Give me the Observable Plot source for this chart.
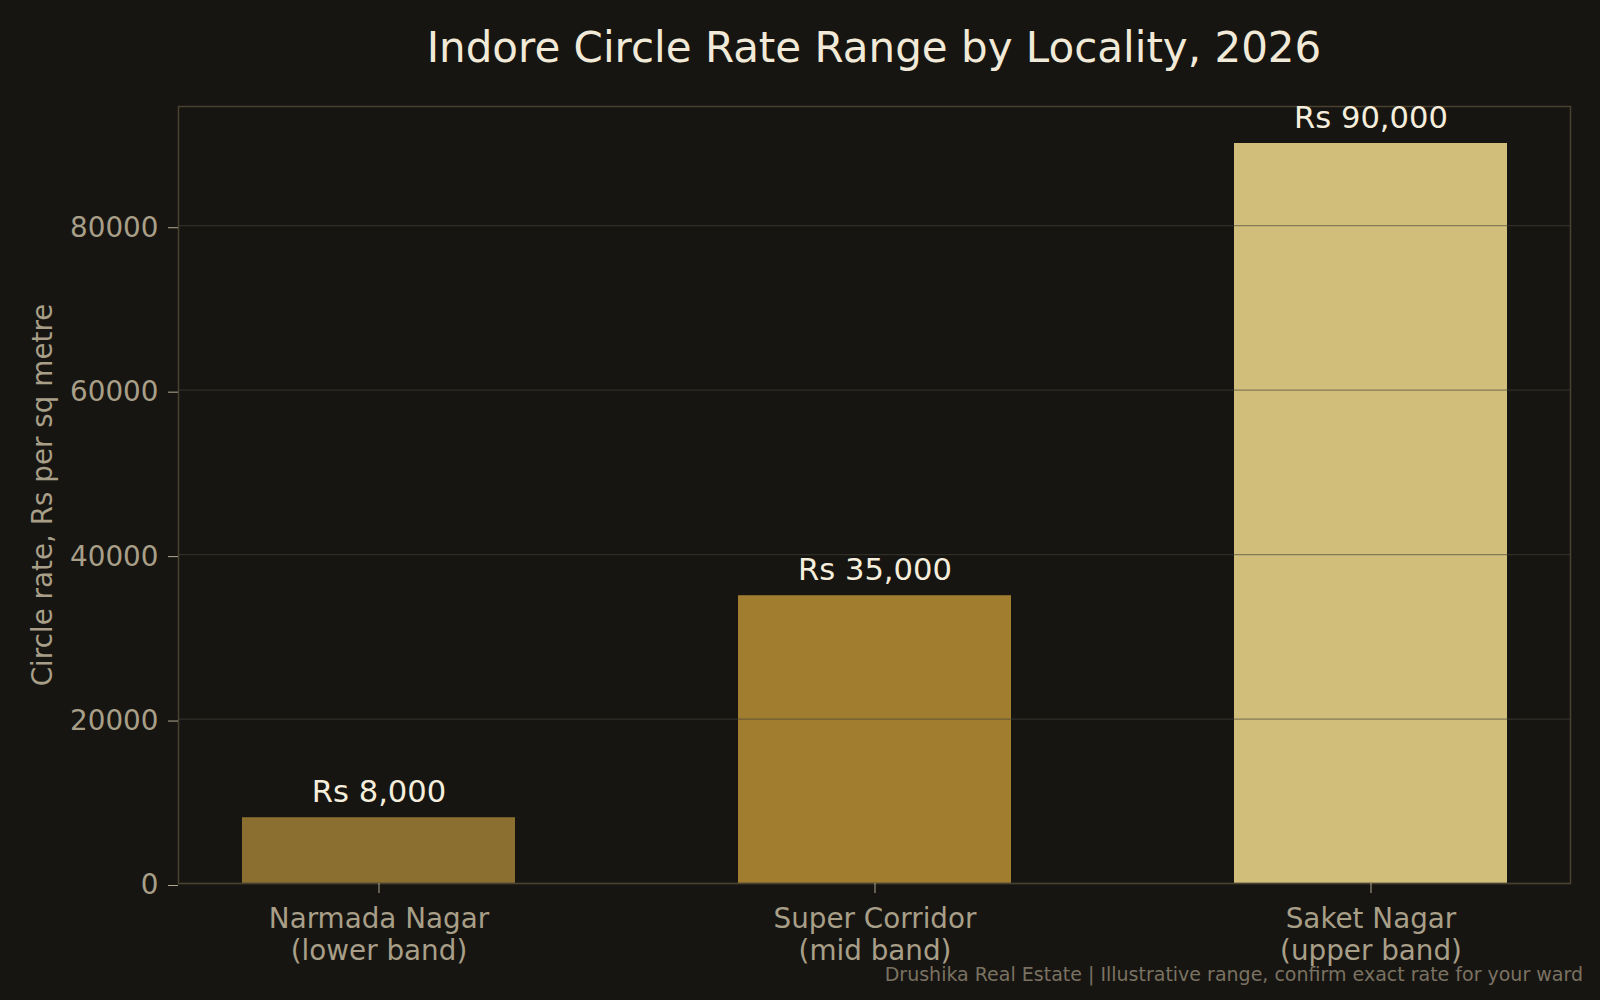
<!DOCTYPE html>
<html>
<head>
<meta charset="utf-8">
<script src="https://cdn.jsdelivr.net/npm/d3@7"></script>
<script src="https://cdn.jsdelivr.net/npm/@observablehq/plot@0.6"></script>
<style>
  html, body { margin: 0; padding: 0; background: #171511; }
  #wrap { position: relative; width: 1600px; height: 1000px; background: #171511; font-family: "DejaVu Sans", sans-serif; overflow: hidden; }
  #title { position: absolute; left: 178px; width: 1392px; top: 0; height: 96px; line-height: 96px; text-align: center; color: #f2ead8; font-size: 42px; }
  #chart { position: absolute; left: 0; top: 96px; }
  #caption { position: absolute; right: 17px; top: 963px; color: #7a7262; font-size: 19px; white-space: nowrap; }
</style>
</head>
<body>
<div id="wrap">
  <div id="title">Indore Circle Rate Range by Locality, 2026</div>
  <div id="chart"></div>
  <div id="caption">Drushika Real Estate | Illustrative range, confirm exact rate for your ward</div>
</div>
<script>
const localities = ["Narmada Nagar\n(lower band)", "Super Corridor\n(mid band)", "Saket Nagar\n(upper band)"];
const rates = [8000, 35000, 90000];
const yTicks = [0, 20000, 40000, 60000, 80000];
const yLabel = "Circle rate, Rs per sq metre";
const barColors = ["#8a6f30", "#a07d2f", "#d0be7a"];

const data = localities.map((l, i) => ({locality: l, rate: rates[i]}));

const chart = Plot.plot({
  width: 1600,
  height: 904,
  marginLeft: 178,
  marginRight: 30,
  marginTop: 10,
  marginBottom: 117,
  style: {background: "#171511", fontFamily: "DejaVu Sans, sans-serif", color: "#a89f88", overflow: "visible"},
  x: {domain: localities, paddingInner: 0.45, paddingOuter: 0.128, align: 0.5},
  y: {domain: [0, 94500]},
  color: {domain: localities, range: barColors},
  marks: [
    Plot.barY(data, {x: "locality", y: "rate", fill: "locality"}),
    Plot.gridY(yTicks, {stroke: "#45413a", strokeOpacity: 0.55, strokeWidth: 1.3}),
    Plot.frame({stroke: "#4a4230", strokeWidth: 1.5}),
    Plot.axisY(yTicks, {tickFormat: d3.format("d"), tickSize: 10, tickPadding: 10, fontSize: 27.8, dy: 2, label: null, stroke: "#b0a890", fill: "#a89f88"}),
    Plot.axisX({tickSize: 10, tickPadding: 12, fontSize: 27.8, lineHeight: 1.15, label: null, stroke: "#b0a890", fill: "#a89f88"}),
    Plot.text(data, {x: "locality", y: "rate", text: d => "Rs " + d3.format(",")(d.rate), dy: -16, lineAnchor: "bottom", fontSize: 30.6, fill: "#f5eedc"}),
    Plot.text([yLabel], {frameAnchor: "left", rotate: -90, dx: -135, textAnchor: "middle", lineAnchor: "middle", fontSize: 27.8, fill: "#a89f88"})
  ]
});
document.getElementById("chart").appendChild(chart);
</script>
</body>
</html>
